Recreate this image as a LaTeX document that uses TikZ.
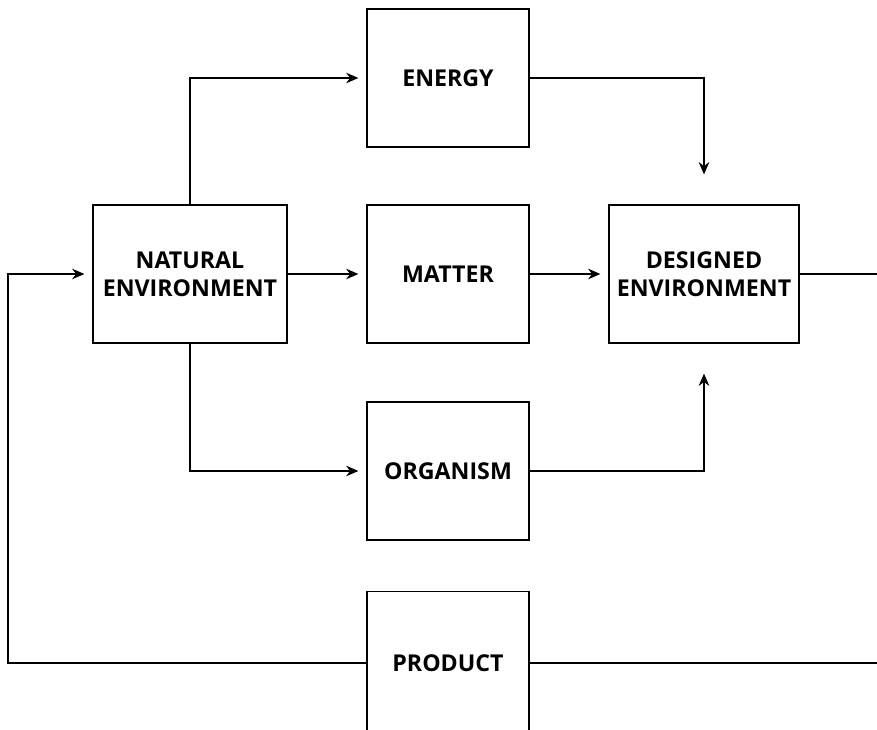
\documentclass[tikz,border=0pt]{standalone}
\usepackage{fontspec}
\setmainfont{Open Sans}
\usetikzlibrary{arrows.meta}
\tikzset{
  blk/.style={draw,line width=0.7pt,minimum width=3.24cm,minimum height=2.76cm,align=center,font=\bfseries\fontsize{13.2}{16}\selectfont},
  flow/.style={line width=0.7pt,-{Stealth[length=7pt,width=6pt]}},
  line/.style={line width=0.7pt}
}
\begin{document}
\begin{tikzpicture}[x=0.02cm,y=-0.02cm]
        \useasboundingbox (0,0) rectangle (877,730);
        \clip (0,0) rectangle (877,730);

        \node (energy) at (448,78) [blk] {ENERGY};
        \node (nat) at (190,274) [blk,minimum width=3.88cm] {NATURAL\\ENVIRONMENT};
        \node (matter) at (448,274) [blk] {MATTER};
        \node (des) at (704,274) [blk,minimum width=3.8cm] {DESIGNED\\ENVIRONMENT};
        \node (organism) at (448,471) [blk] {ORGANISM};
        \node (product) at (448,663) [blk,minimum height=2.86cm] {PRODUCT};

        \coordinate (right) at (884,274);
        \coordinate (left) at (8,663);

        \draw[flow,shorten >=0.16cm] (nat.north) |- (energy.west);
        \draw[flow,shorten >=0.16cm] (nat) -- (matter);
        \draw[flow,shorten >=0.16cm] (nat.south) |- (organism.west);
        \draw[flow,shorten >=0.6cm] (energy.east) -| (des.north);
        \draw[flow,shorten >=0.16cm] (matter) -- (des);
        \draw[flow,shorten >=0.6cm] (organism.east) -| (des.south);

        \draw[line] (des.east) -- (right) |- (product.east);
        \draw[flow,shorten >=0.16cm] (product.west) -- (left) |- (nat.west);
\end{tikzpicture}
\end{document}
